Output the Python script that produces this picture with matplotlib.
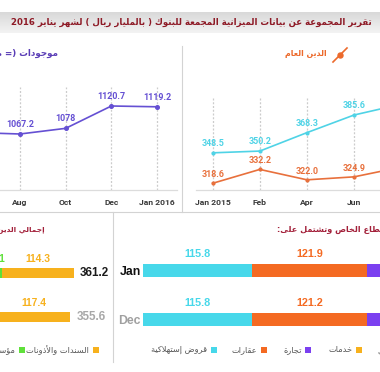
import re
import numpy as np
import matplotlib
matplotlib.use('Agg')
import matplotlib.pyplot as plt
from matplotlib.colors import LinearSegmentedColormap
from matplotlib.lines import Line2D
from matplotlib.patches import Rectangle

# ---------------- data ----------------
title_text = "تقرير المجموعة عن بيانات الميزانية المجمعة للبنوك ( بالمليار ريال ) لشهر يناير 2016"

assets_title = "موجودات (= مطلوبات)"
assets_months = ["Jun", "Aug", "Oct", "Dec", "Jan 2016"]
assets_values = [1070.0, 1067.2, 1078.0, 1120.7, 1119.2]
assets_labels = ["1070", "1067.2", "1078", "1120.7", "1119.2"]

debt_title = "الدين العام"
debt_months = ["Jan 2015", "Feb", "Apr", "Jun", "Aug"]
public_debt = [318.6, 332.2, 322.0, 324.9, 334.4]
public_debt_labels = ["318.6", "332.2", "322.0", "324.9", "334.4"]
other_series = [348.5, 350.2, 368.3, 385.6, 396.2]
other_series_labels = ["348.5", "350.2", "368.3", "385.6", "396.2"]

gov_title = "إجمالي الدين العام"
gov_rows = ["Jan", "Dec"]
gov_categories = ["قروض حكومية", "مؤسسات حكومية", "السندات والأذونات"]
gov_other = [225.8, 217.7]
gov_inst = [21.1, 20.5]
gov_bonds = [114.3, 117.4]
gov_totals = ["361.2", "355.6"]

priv_title = "قروض القطاع الخاص وتشتمل على:"
priv_rows = ["Jan", "Dec"]
priv_categories = ["قروض إستهلاكية", "عقارات", "تجارة", "خدمات", "أخرى"]
priv_consumer = [115.8, 115.8]
priv_realestate = [121.9, 121.2]
priv_trade = [64.5, 63.9]
priv_services = [70.0, 69.5]
priv_other = [90.0, 88.0]

# ---------------- colours ----------------
C_PURPLE = '#6550d3'
C_CYAN = '#4fd3e6'
C_ORANGE = '#e8703c'
C_TITLE = '#8e1a26'
C_SUB = '#a3203a'
BAR_CYAN = '#47d8ea'
BAR_ORANGE = '#f46a22'
BAR_PURPLE = '#7b40f0'
BAR_YELLOW = '#f7b11d'
BAR_GREEN = '#5fe03a'
BAR_GREY = '#9a9a9a'

# ---------------- Arabic shaping (presentation forms + RTL order) ----------------
_FT = [('\u0621', 0xFE80, 1), ('\u0622', 0xFE81, 2), ('\u0623', 0xFE83, 2), ('\u0624', 0xFE85, 2),
       ('\u0625', 0xFE87, 2), ('\u0626', 0xFE89, 4), ('\u0627', 0xFE8D, 2), ('\u0628', 0xFE8F, 4),
       ('\u0629', 0xFE93, 2), ('\u062A', 0xFE95, 4), ('\u062B', 0xFE99, 4), ('\u062C', 0xFE9D, 4),
       ('\u062D', 0xFEA1, 4), ('\u062E', 0xFEA5, 4), ('\u062F', 0xFEA9, 2), ('\u0630', 0xFEAB, 2),
       ('\u0631', 0xFEAD, 2), ('\u0632', 0xFEAF, 2), ('\u0633', 0xFEB1, 4), ('\u0634', 0xFEB5, 4),
       ('\u0635', 0xFEB9, 4), ('\u0636', 0xFEBD, 4), ('\u0637', 0xFEC1, 4), ('\u0638', 0xFEC5, 4),
       ('\u0639', 0xFEC9, 4), ('\u063A', 0xFECD, 4), ('\u0641', 0xFED1, 4), ('\u0642', 0xFED5, 4),
       ('\u0643', 0xFED9, 4), ('\u0644', 0xFEDD, 4), ('\u0645', 0xFEE1, 4), ('\u0646', 0xFEE5, 4),
       ('\u0647', 0xFEE9, 4), ('\u0648', 0xFEED, 2), ('\u0649', 0xFEEF, 2), ('\u064A', 0xFEF1, 4)]
FORMS = {c: (b, n) for c, b, n in _FT}
LAMALEF = {'\u0622': 0xFEF5, '\u0623': 0xFEF7, '\u0625': 0xFEF9, '\u0627': 0xFEFB}


def _jt(u):
    if isinstance(u, tuple):
        return 'R'
    if u == '\u0640':
        return 'D'
    if u in FORMS:
        n = FORMS[u][1]
        return 'D' if n == 4 else ('R' if n == 2 else 'U')
    return 'U'


def vis(s):
    units = []
    i = 0
    while i < len(s):
        c = s[i]
        if c == '\u0644' and i + 1 < len(s) and s[i + 1] in LAMALEF:
            units.append(('LA', s[i + 1]))
            i += 2
        else:
            units.append(c)
            i += 1
    out = []
    for k, u in enumerate(units):
        t = _jt(u)
        prev = _jt(units[k - 1]) if k > 0 else 'U'
        nxt = _jt(units[k + 1]) if k + 1 < len(units) else 'U'
        cp = t in ('D', 'R') and prev == 'D'
        cn = t == 'D' and nxt in ('D', 'R')
        if isinstance(u, tuple):
            out.append(chr(LAMALEF[u[1]] + (1 if cp else 0)))
        elif u in FORMS:
            b, n = FORMS[u]
            if n == 1:
                out.append(chr(b))
            elif n == 2:
                out.append(chr(b + (1 if cp else 0)))
            else:
                idx = 3 if (cp and cn) else (1 if cp else (2 if cn else 0))
                out.append(chr(b + idx))
        else:
            out.append(u)
    shaped = ''.join(out)
    toks = re.findall(r'[0-9A-Za-z](?:[0-9A-Za-z.,]*[0-9A-Za-z])?|.', shaped, re.S)
    mirror = {'(': ')', ')': '(', '[': ']', ']': '['}
    return ''.join(mirror.get(t, t) for t in reversed(toks))


# ---------------- figure helpers ----------------
W, H = 380, 372
fig = plt.figure(figsize=(W / 100, H / 100), dpi=100)
fig.patch.set_facecolor('white')
renderer = fig.canvas.get_renderer()
AR = ['DejaVu Sans']
NUM = ['Roboto', 'DejaVu Sans']
ARIAL = ['Liberation Sans', 'DejaVu Sans']


def fx(x):
    return x / W


def fy(y):
    return 1 - y / H


def add_ax(x0, y0, x1, y1):
    return fig.add_axes([fx(x0), fy(y1), (x1 - x0) / W, (y1 - y0) / H])


def text_w(s, size, family, weight):
    t = fig.text(0, 0, s, fontsize=size, family=family, weight=weight)
    w = t.get_window_extent(renderer).width
    t.remove()
    return w


def fit(s, width, family=AR, weight='bold'):
    return 10 * width / text_w(s, 10, family, weight)


def hline(x0, y0, x1, y1, color='#d3d3d3', lw=0.8):
    fig.add_artist(Line2D([fx(x0), fx(x1)], [fy(y0), fy(y1)], color=color, lw=lw,
                          transform=fig.transFigure))


def square(x, yc, color, s=6):
    fig.add_artist(Rectangle((fx(x), fy(yc + s / 2)), s / W, s / H, color=color,
                             transform=fig.transFigure, lw=0))


# ---------------- title band ----------------
bax = add_ax(0, 12, 380, 33)
grad = np.linspace(0, 1, 60).reshape(-1, 1)
bax.imshow(grad, aspect='auto', cmap=LinearSegmentedColormap.from_list('g', ['#d9d9d9', '#f3f3f3']),
           extent=[0, 1, 0, 1], origin='upper')
bax.axis('off')
tv = vis(title_text)
fig.text(fx(372), fy(22.5), tv, ha='right', va='center', color=C_TITLE, family=AR,
         weight='bold', fontsize=fit(tv, 364))

# ---------------- separators ----------------
hline(182, 46, 182, 212)
hline(0, 212, 380, 212)
hline(113, 212, 113, 362)


def style_line_ax(ax, labels, xs, xlim):
    for s in ('top', 'left', 'right'):
        ax.spines[s].set_visible(False)
    ax.spines['bottom'].set_color('#dcdcdc')
    ax.spines['bottom'].set_linewidth(0.9)
    ax.set_yticks([])
    ax.set_xticks(xs)
    ax.set_xticklabels(labels, fontsize=6.1, weight='bold', color='#3a3a3a', family=NUM)
    ax.tick_params(axis='x', length=0, pad=6.3)
    ax.grid(axis='x', ls=(0, (1.6, 1.4)), color='#cccccc', lw=0.9)
    ax.set_facecolor('none')
    ax.set_xlim(*xlim)


# ---------------- top-left: assets ----------------
ax1 = add_ax(0, 87, 177, 190)
x1 = np.arange(len(assets_values))
ax1.plot(x1, assets_values, color=C_PURPLE, lw=1.2, marker='o', ms=2.6)
ax1.set_ylim(960.2, 1157.0)
style_line_ax(ax1, assets_months, x1, (1 - 20 / 45.67, 1 + 157 / 45.67))
for xi, v, lb in zip(x1, assets_values, assets_labels):
    ax1.annotate(lb, (xi, v), xytext=(0, 6.8), textcoords='offset points', ha='center', va='center',
                 fontsize=6.4, weight='bold', color=C_PURPLE, family=NUM)
av = vis(assets_title)
fig.text(fx(58), fy(53), av, ha='right', va='center', color='#5a3db6', family=AR, weight='bold',
         fontsize=fit(vis("موجودات (="), 54))

# ---------------- top-right: debt ----------------
ax2 = add_ax(196, 97, 380, 190)
x2 = np.arange(len(public_debt))
ax2.plot(x2, other_series, color=C_CYAN, lw=1.2, marker='o', ms=2.0)
ax2.plot(x2, public_debt, color=C_ORANGE, lw=1.2, marker='o', ms=2.0)
ax2.set_ylim(312.0, 403.3)
style_line_ax(ax2, debt_months, x2, ((196 - 212.7) / 47.1, (380 - 212.7) / 47.1))
for xi, v, lb in zip(x2, other_series, other_series_labels):
    ax2.annotate(lb, (xi, v), xytext=(0, 6.8), textcoords='offset points', ha='center', va='center',
                 fontsize=6.4, weight='bold', color=C_CYAN, family=NUM)
for xi, v, lb in zip(x2, public_debt, public_debt_labels):
    ax2.annotate(lb, (xi, v), xytext=(0, 6.3), textcoords='offset points', ha='center', va='center',
                 fontsize=6.4, weight='bold', color=C_ORANGE, family=NUM)
dv = vis(debt_title)
fig.text(fx(327), fy(53), dv, ha='right', va='center', color='#ec6a2c', family=AR, weight='bold',
         fontsize=fit(dv, 42))
fig.add_artist(Line2D([fx(333), fx(347)], [fy(62), fy(48)], color='#ec6a2c', lw=1.2,
                      transform=fig.transFigure))
fig.add_artist(Line2D([fx(340)], [fy(55)], color='#ec6a2c', marker='o', ms=3.6,
                      transform=fig.transFigure))

# ---------------- bottom-left: government debt ----------------
ax3 = add_ax(0, 240, 112, 340)
sc3 = 0.63
ax3.set_xlim(153.6 / sc3, (153.6 + 112) / sc3)
ax3.set_ylim((340 - 273) / 44.3, (240 - 273) / 44.3)
rows3 = np.arange(len(gov_rows))
left = np.zeros(len(gov_rows))
for vals, col in zip([gov_other, gov_inst, gov_bonds], [BAR_GREY, BAR_GREEN, BAR_YELLOW]):
    vals = np.array(vals)
    ax3.barh(rows3, vals, left=left, height=10 / 44.3, color=col, lw=0)
    if col != BAR_GREY:
        for r, l, v in zip(rows3, left, vals):
            ax3.annotate(f"{v:.1f}", (l + v / 2, r), xytext=(0, 10), textcoords='offset points',
                         ha='center', va='center', fontsize=7.4, weight='bold', color=col,
                         family=ARIAL, annotation_clip=False)
    left = left + vals
for r, tot, lb in zip(rows3, left, gov_totals):
    ax3.annotate(lb, (tot, r), xytext=(4.4, 0), textcoords='offset points', ha='left', va='center',
                 fontsize=8.4, weight='bold', color='#1a1a1a' if r == 0 else '#a8a8a8',
                 family=ARIAL, annotation_clip=False)
ax3.axis('off')
gv = vis(gov_title)
fig.text(fx(45), fy(230), gv, ha='right', va='center', color=C_SUB, family=AR, weight='bold',
         fontsize=fit(vis("إجمالي الدي"), 45))

# ---------------- bottom-right: private sector ----------------
ax4 = add_ax(143, 240, 380, 340)
sc4 = 0.944
ax4.set_xlim(0, 237 / sc4)
ax4.set_ylim((340 - 270.5) / 48.5, (240 - 270.5) / 48.5)
rows4 = np.arange(len(priv_rows))
left = np.zeros(len(priv_rows))
priv_cols = [BAR_CYAN, BAR_ORANGE, BAR_PURPLE, BAR_YELLOW, BAR_GREY]
for vals, col in zip([priv_consumer, priv_realestate, priv_trade, priv_services, priv_other], priv_cols):
    vals = np.array(vals)
    ax4.barh(rows4, vals, left=left, height=13 / 48.5, color=col, lw=0)
    for r, l, v in zip(rows4, left, vals):
        ax4.annotate(f"{v:.1f}", (l + v / 2, r), xytext=(0, 11.6), textcoords='offset points',
                     ha='center', va='center', fontsize=7.8, weight='bold', color=col,
                     family=ARIAL)
    left = left + vals
for r, lb in zip(rows4, priv_rows):
    ax4.annotate(lb, (0, r), xytext=(-1.5, -1.2), textcoords='offset points', ha='right', va='center',
                 fontsize=8.8, weight='bold', color='#111111' if r == 0 else '#a0a0a0',
                 family=ARIAL, annotation_clip=False)
ax4.axis('off')
pv = vis(priv_title)
fig.text(fx(277), fy(230), pv, ha='left', va='center', color=C_SUB, family=AR, weight='bold',
         fontsize=fit(vis("الخاص وتشتمل على:"), 85))

# ---------------- legends ----------------
lg_size = np.mean([fit(vis("عقارات"), 26, weight='normal'),
                   fit(vis("قروض إستهلاكية"), 64, weight='normal'),
                   fit(vis("السندات والأذونات"), 55, weight='normal')])
# bottom-left: squares sit right of their labels
gov_sq_x = [93, 19, -55]
for lab, col, sx in zip(reversed(gov_categories), [BAR_YELLOW, BAR_GREEN, BAR_GREY], gov_sq_x):
    square(sx, 350, col)
    fig.text(fx(sx - 4), fy(350), vis(lab), ha='right', va='center', color='#555555', family=AR,
             fontsize=lg_size)
# bottom-right
priv_sq_x = [211, 261, 305, 356, 420]
for lab, col, sx in zip(priv_categories, priv_cols, priv_sq_x):
    square(sx, 350, col)
    if sx < 400:
        fig.text(fx(sx - 3.5), fy(350), vis(lab), ha='right', va='center', color='#555555',
                 family=AR, fontsize=lg_size)
    else:
        fig.text(fx(377), fy(350), vis(lab), ha='left', va='center', color='#555555',
                 family=AR, fontsize=lg_size)

fig.savefig('out.png', dpi=100, facecolor='white')
